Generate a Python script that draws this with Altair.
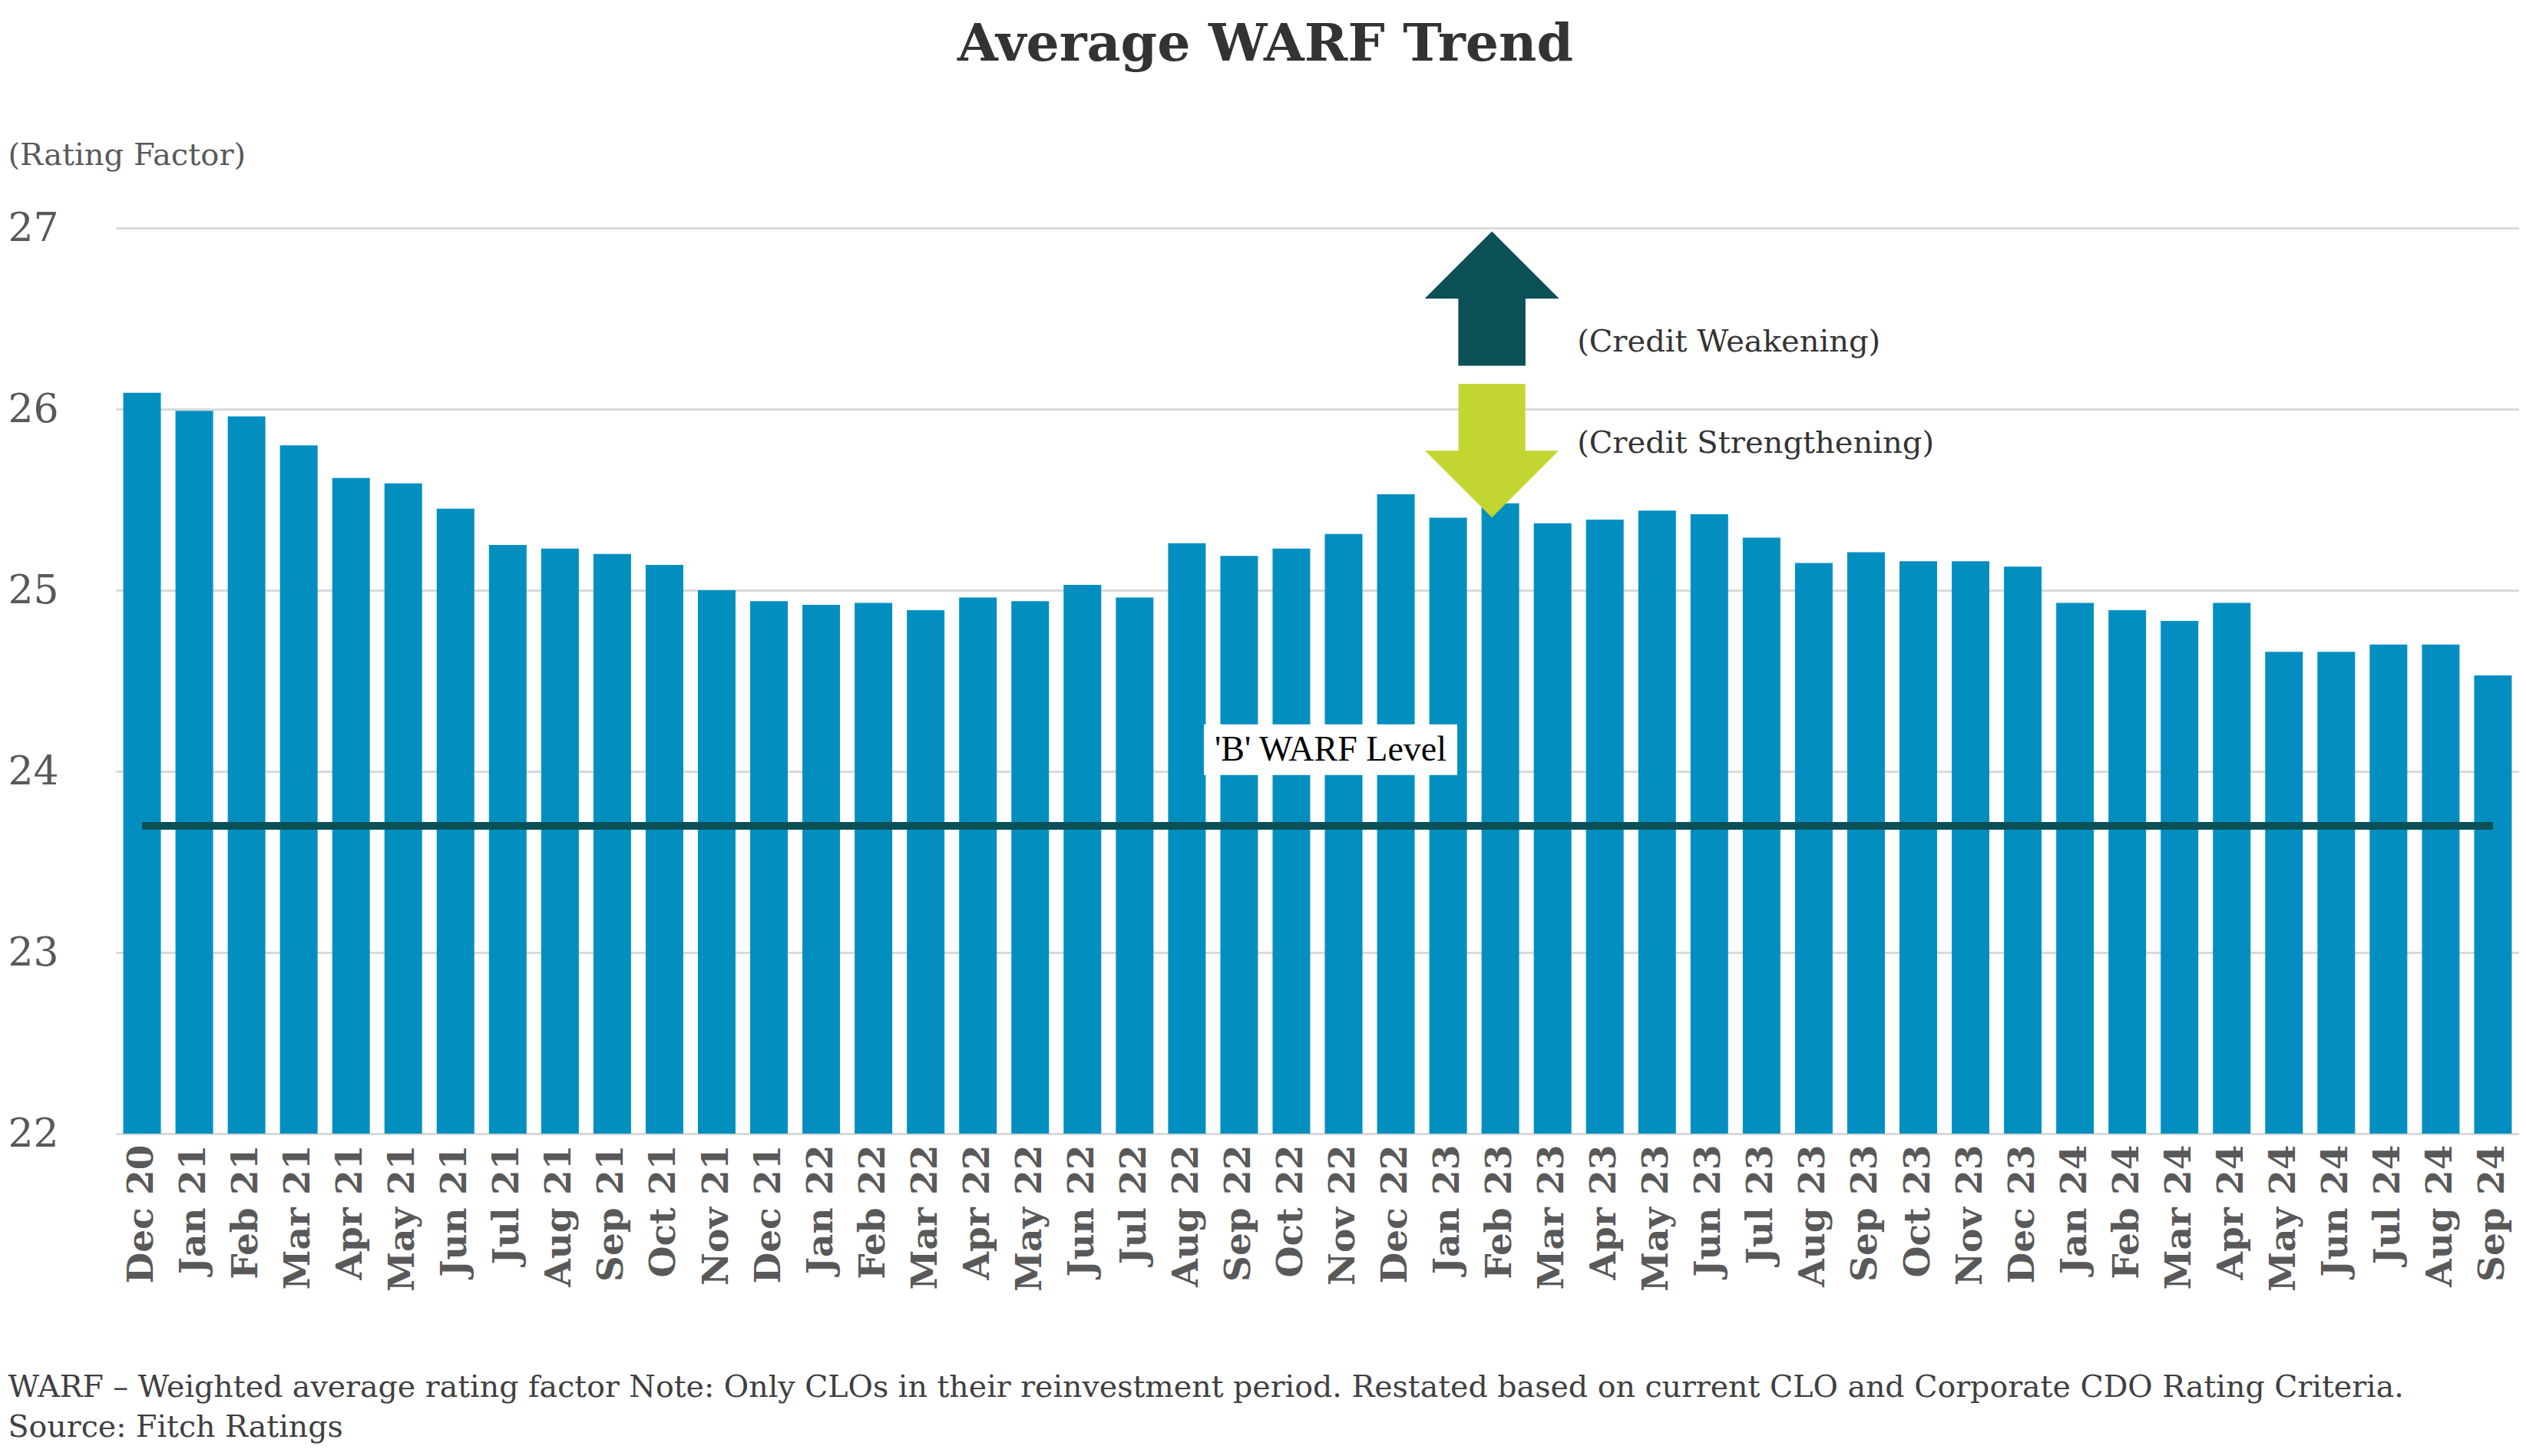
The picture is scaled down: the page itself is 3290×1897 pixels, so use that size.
import altair as alt
import pandas as pd

months = ["Dec 20",
          "Jan 21", "Feb 21", "Mar 21", "Apr 21", "May 21", "Jun 21",
          "Jul 21", "Aug 21", "Sep 21", "Oct 21", "Nov 21", "Dec 21",
          "Jan 22", "Feb 22", "Mar 22", "Apr 22", "May 22", "Jun 22",
          "Jul 22", "Aug 22", "Sep 22", "Oct 22", "Nov 22", "Dec 22",
          "Jan 23", "Feb 23", "Mar 23", "Apr 23", "May 23", "Jun 23",
          "Jul 23", "Aug 23", "Sep 23", "Oct 23", "Nov 23", "Dec 23",
          "Jan 24", "Feb 24", "Mar 24", "Apr 24", "May 24", "Jun 24",
          "Jul 24", "Aug 24", "Sep 24"]

warf = [26.09,
        25.99, 25.96, 25.80, 25.62, 25.59, 25.45,
        25.25, 25.23, 25.20, 25.14, 25.00, 24.94,
        24.92, 24.93, 24.89, 24.96, 24.94, 25.03,
        24.96, 25.26, 25.19, 25.23, 25.31, 25.53,
        25.40, 25.48, 25.37, 25.39, 25.44, 25.42,
        25.29, 25.15, 25.21, 25.16, 25.16, 25.13,
        24.93, 24.89, 24.83, 24.93, 24.66, 24.66,
        24.70, 24.70, 24.53]

b_warf_level = 23.70
y_ticks = [22, 23, 24, 25, 26, 27]

# annotation anchors (category + value on the rating-factor scale)
arrow_month = "Feb 23"
arrow_up_y = 26.61
arrow_down_y = 25.77
weak_y = 26.37
strong_y = 25.81
b_label_month = "Nov 22"
b_label_y = 24.12

footnote = ["WARF \u2013 Weighted average rating factor Note: Only CLOs in their reinvestment period. Restated based on current CLO and Corporate CDO Rating Criteria.",
            "Source: Fitch Ratings"]

SERIF = "DejaVu Serif"
BAR = "#028fc0"
TEAL = "#0b4f57"
LIME = "#c3d530"

df = pd.DataFrame({"month": months, "warf": warf})

xscale = alt.Scale(domain=months, paddingInner=0.28, paddingOuter=0.14)
yscale = alt.Scale(domain=[22, 27], nice=False, zero=False)

x_enc = alt.X("month:N", sort=months, scale=xscale,
              axis=alt.Axis(labelAngle=270, labelFont=SERIF, labelFontWeight="bold",
                            labelFontSize=47, labelColor="#595959", labelPadding=14,
                            labelLimit=0, labelOverlap=False,
                            ticks=False, domain=False, grid=False,
                            title=footnote, titleFont=SERIF, titleFontWeight="normal",
                            titleFontSize=39.5, titleColor="#404040", titleAlign="left",
                            titleAnchor="start", titleX=-141, titleY=342,
                            titleBaseline="alphabetic", titleLineHeight=52))
y_enc = alt.Y("warf:Q", scale=yscale,
              axis=alt.Axis(values=y_ticks, format="d", labelFont=SERIF, labelFontSize=52,
                            labelColor="#595959", labelAlign="left", labelPadding=141,
                            ticks=False, domain=False, grid=True, gridColor="#d9d9d9",
                            gridWidth=3,
                            title="(Rating Factor)", titleFont=SERIF, titleFontSize=40,
                            titleFontWeight="normal", titleColor="#595959", titleAngle=0,
                            titleAlign="left", titleBaseline="alphabetic",
                            titleX=-141, titleY=-83))

bars = alt.Chart(df).mark_bar(color=BAR).encode(
    x=x_enc, y=y_enc, y2=alt.datum(22))

bline = alt.Chart(df).mark_rule(color=TEAL, strokeWidth=9).encode(
    x=alt.datum(months[0]), x2=alt.datum(months[-1]), y=alt.datum(b_warf_level))

box_df = pd.DataFrame({"month": [b_label_month], "y": [b_label_y], "t": ["'B' WARF Level"]})
box = alt.Chart(box_df).mark_point(
    shape="M-1,-0.2L1,-0.2L1,0.2L-1,0.2Z", size=330 * 330, filled=True,
    fill="white", opacity=1, strokeWidth=0, xOffset=-17).encode(
    x=alt.X("month:N", sort=months), y=alt.Y("y:Q"))
box_text = alt.Chart(box_df).mark_text(
    font="Liberation Serif", fontSize=46, color="black", align="center",
    baseline="middle", xOffset=-17).encode(
    x=alt.X("month:N", sort=months), y=alt.Y("y:Q"), text="t:N")

arr_df = pd.DataFrame({"month": [arrow_month], "up": [arrow_up_y], "down": [arrow_down_y]})
arrow_up = alt.Chart(arr_df).mark_point(
    shape="M0,-1L1,0L0.5,0L0.5,1L-0.5,1L-0.5,0L-1,0Z", size=175 * 175,
    filled=True, fill=TEAL, opacity=1, strokeWidth=0, xOffset=-11).encode(
    x=alt.X("month:N", sort=months), y=alt.Y("up:Q"))
arrow_down = alt.Chart(arr_df).mark_point(
    shape="M-0.5,-1L0.5,-1L0.5,0L1,0L0,1L-1,0L-0.5,0Z", size=174 * 174,
    filled=True, fill=LIME, opacity=1, strokeWidth=0, xOffset=-11).encode(
    x=alt.X("month:N", sort=months), y=alt.Y("down:Q"))

lab_df = pd.DataFrame({"month": [arrow_month, arrow_month],
                       "y": [weak_y, strong_y],
                       "t": ["(Credit Weakening)", "(Credit Strengthening)"]})
labels = alt.Chart(lab_df).mark_text(
    font=SERIF, fontSize=40, color="#333333", align="left", baseline="middle",
    dx=100).encode(
    x=alt.X("month:N", sort=months), y=alt.Y("y:Q"), text="t:N")

chart = alt.layer(bars, bline, box, box_text, arrow_up, arrow_down, labels).properties(
    width=3130, height=1180,
    autosize=alt.AutoSizeParams(type="none"),
    padding={"left": 143, "top": 289, "right": 0, "bottom": 408},
    title=alt.TitleParams("Average WARF Trend", font=SERIF, fontSize=68,
                          fontWeight="bold", color="#333333", anchor="middle",
                          frame="group", dx=-68, offset=35, baseline="alphabetic"),
).configure_view(stroke=None)

chart.save("out.html", embed_options={"renderer": "svg", "actions": False})
